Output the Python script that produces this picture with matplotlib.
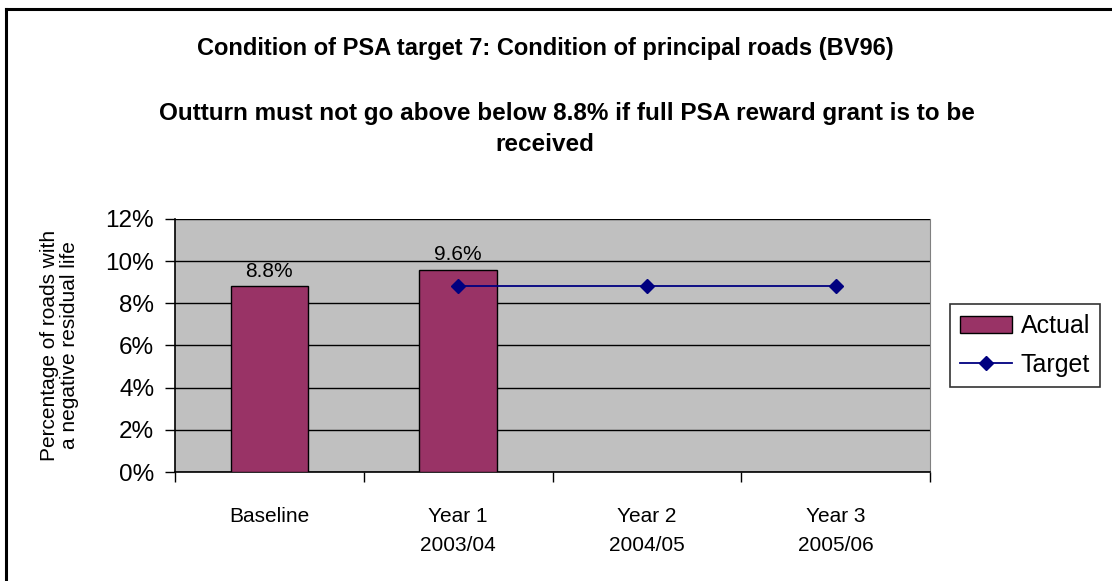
import matplotlib
matplotlib.use("Agg")
import matplotlib.pyplot as plt
import numpy as np
from matplotlib.lines import Line2D

plt.rcParams['font.family'] = ['Liberation Sans', 'DejaVu Sans']

# Data
categories = ["Baseline", "Year 1\n2003/04", "Year 2\n2004/05", "Year 3\n2005/06"]
actual = [8.8, 9.6, np.nan, np.nan]
target = [np.nan, 8.8, 8.8, 8.8]
yticks = [0, 2, 4, 6, 8, 10, 12]

fig = plt.figure(figsize=(11.12, 5.81), dpi=100)
# border: only top and left edges are visible in the original
fig.add_artist(Line2D([0.005, 1.0], [0.985, 0.985], color="black", linewidth=2.2,
                      transform=fig.transFigure))
fig.add_artist(Line2D([0.005, 0.005], [0.0, 0.985], color="black", linewidth=2.2,
                      transform=fig.transFigure))

ax = fig.add_axes([0.1574, 0.1876, 0.679, 0.4355])
ax.set_facecolor("#C0C0C0")
x = np.arange(len(categories))

ax.bar(x, actual, width=0.41, color="#993366", edgecolor="black", linewidth=1,
       label="Actual", zorder=3)
ax.plot(x, target, color="#000080", marker="D", markersize=7, linewidth=1.3,
        label="Target", zorder=4)

for xi, v in zip(x, actual):
    if not np.isnan(v):
        ax.text(xi, v + 0.25, f"{v:.1f}%", ha="center", va="bottom", fontsize=15, zorder=5)

ax.set_xlim(-0.5, 3.5)
ax.set_ylim(0, 12)
ax.set_yticks(yticks)
ax.set_yticklabels([f"{v}%" for v in yticks], fontsize=17.5)
ax.yaxis.grid(True, color="black", linewidth=1, zorder=1)
ax.set_axisbelow(True)
ax.tick_params(axis="y", length=7, width=1, direction="out", pad=8)

ax.set_xticks(x)
ax.set_xticklabels(categories, fontsize=15, linespacing=1.7)
ax.tick_params(axis="x", length=0, pad=25)
ax.set_xticks(np.arange(-0.5, 4, 1), minor=True)
ax.tick_params(axis="x", which="minor", length=7, width=1, direction="out")

ax.spines["top"].set_visible(False)
ax.spines["right"].set_color("#808080")
ax.spines["left"].set_linewidth(1.2)
ax.spines["bottom"].set_linewidth(1.2)

ax.set_ylabel("Percentage of roads with\na negative residual life", fontsize=15,
              linespacing=1.05)
ax.yaxis.set_label_coords(-0.127, 0.5)

fig.text(0.49, 0.917, "Condition of PSA target 7: Condition of principal roads (BV96)",
         ha="center", va="center", fontsize=17, fontweight="bold")
fig.text(0.51, 0.805, "Outturn must not go above below 8.8% if full PSA reward grant is to be",
         ha="center", va="center", fontsize=17.5, fontweight="bold")
fig.text(0.49, 0.752, "received", ha="center", va="center", fontsize=17.5, fontweight="bold")

handles, labels = ax.get_legend_handles_labels()
order = [labels.index("Actual"), labels.index("Target")]
leg = fig.legend([handles[i] for i in order], [labels[i] for i in order],
                 loc="center left", bbox_to_anchor=(0.854, 0.405), fontsize=18,
                 frameon=True, fancybox=False, edgecolor="black", handlelength=2.1,
                 borderpad=0.4, labelspacing=0.6, handletextpad=0.35, borderaxespad=0)
leg.get_frame().set_linewidth(1.2)

fig.savefig("out.png", dpi=100)
